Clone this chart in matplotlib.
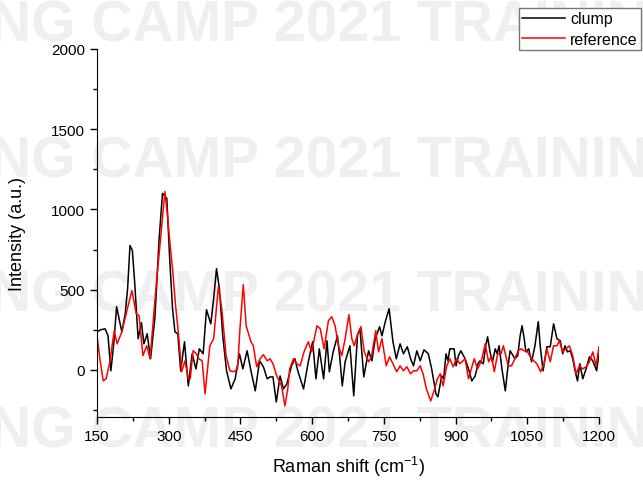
import matplotlib
matplotlib.use('Agg')
import matplotlib.pyplot as plt

plt.rcParams['font.family'] = ['Liberation Sans', 'DejaVu Sans']

# clump spectrum
clump_x = [150, 158, 167, 173, 179, 185, 191, 197, 202, 209, 214, 219, 224, 229, 236, 243, 248, 255,
           262, 271, 280, 287, 296, 302, 308, 313, 319, 325, 333, 341, 349, 357, 364, 372, 379, 388,
           394, 400, 406, 413, 421, 430, 439, 448, 455, 464, 472, 481, 490, 498, 506, 512, 518, 525,
           533, 540, 547, 557, 564, 570, 582, 592, 601, 608, 615, 624, 631, 636, 644, 653, 658, 663,
           669, 679, 687, 695, 700, 708, 718, 725, 732, 741, 746, 753, 761, 769, 776, 784, 791, 799,
           806, 812, 819, 826, 834, 843, 850, 859, 863, 871, 875, 880, 884, 888, 897, 901, 906, 911,
           920, 927, 934, 941, 947, 951, 958, 963, 967, 972, 977, 983, 987, 991, 997, 1004, 1009,
           1014, 1018, 1024, 1030, 1035, 1039, 1043, 1047, 1053, 1059, 1066, 1073, 1077, 1083, 1091,
           1098, 1105, 1112, 1119, 1124, 1129, 1134, 1140, 1145, 1150, 1155, 1160, 1166, 1173, 1180,
           1187, 1195, 1200]
clump_y = [237, 250, 256, 212, -6, 162, 394, 306, 237, 350, 506, 775, 744, 537, 194, 294, 162, 225,
           69, 319, 819, 1100, 1069, 694, 381, 237, 225, -6, 175, -100, 100, 6, 131, 100, 375, 287,
           444, 631, 506, 212, -6, -119, -56, 100, 6, 119, -6, -131, 56, 19, -56, -44, -44, -200,
           -38, -119, -88, 25, 69, -6, -119, 50, 175, -56, 131, -56, 181, -12, 112, 212, 69, -100,
           50, 150, -162, 219, 256, -44, 119, 56, 194, 269, 212, 300, 381, 175, 69, 162, 100, 144,
           69, 25, 119, 56, 125, 100, 6, -150, -169, -38, -56, 100, 56, 131, 131, 25, 88, 119,
           69, 6, -69, -38, 38, 56, 38, 150, 206, 112, 50, 131, 100, 150, 6, -131, 6,
           119, 100, 69, 88, 212, 275, 206, 112, 131, 50, 150, 300, 150, -6, 144,
           144, 287, 194, 181, 100, 150, 112, 119, 69, -6, -69, 38, -56, 6, 81,
           56, -6, 100]

# reference spectrum
ref_x = [150, 156, 163, 169, 177, 186, 192, 202, 212, 223, 232, 238, 246, 254, 261, 275, 284, 292,
         297, 303, 308, 314, 320, 327, 334, 341, 345, 351, 358, 363, 370, 376, 386, 394, 404, 411,
         420, 428, 436, 444, 449, 456, 462, 467, 472, 477, 484, 491, 498, 506, 512, 518, 526, 536,
         543, 549, 553, 561, 568, 575, 583, 592, 599, 610, 617, 625, 634, 641, 648, 655, 662, 669,
         677, 683, 688, 694, 702, 709, 718, 724, 733, 739, 746, 755, 762, 769, 777, 784, 791, 798,
         806, 812, 819, 826, 832, 839, 848, 855, 862, 868, 874, 881, 888, 895, 902, 909, 920, 927,
         933, 939, 946, 954, 962, 969, 975, 981, 988, 995, 1000, 1005, 1010, 1017, 1024, 1031,
         1037, 1043, 1049, 1059, 1070, 1078, 1085, 1091, 1098, 1105, 1112, 1117, 1124, 1131, 1138,
         1145, 1152, 1159, 1166, 1173, 1180, 1187, 1194, 1200]
ref_y = [212, 69, -69, -56, 50, 244, 162, 237, 362, 494, 350, 337, 88, 150, 69, 569, 850, 1112,
         975, 775, 631, 412, 237, -12, 56, -56, -56, 119, 100, 69, 56, -150, 150, 194, 519, 381,
         88, -6, -12, 6, 256, 531, 275, 225, 175, 150, 19, 69, 94, 56, 69, 38, -38, -100,
         -225, -119, 6, 69, 38, 25, 112, 175, 112, 275, 256, 131, 306, 331, 275, 150, 88, 194,
         344, 194, 150, 212, 269, 112, 50, 81, 244, 112, 194, 25, 81, 38, -12, 25, -6, 19,
         -25, -6, -6, 25, -25, -119, -194, -131, -56, -25, -100, 19, 69, 19, 69, 38, 69, -56,
         6, 69, 6, 56, 162, 50, 88, -12, 100, 100, 150, 88, 25, 25, 69, 119,
         131, 119, 119, 69, 38, -12, 38, 131, 50, 150, 150, 181, 112, 131, 150,
         88, -25, 25, 6, 19, 50, 112, 25, 144]

watermark = 'NG CAMP 2021 TRAINING'
watermark_rows = [27, 162, 297, 432]

fig = plt.figure(figsize=(6.43, 4.81), dpi=100)
ax = fig.add_axes([97 / 643, 1 - 418 / 481, 502 / 643, 368 / 481])
ax.patch.set_alpha(0)

for row in watermark_rows:
    fig.text(-10 / 643, 1 - row / 481, watermark, fontsize=41, fontweight='bold',
             color='#efefef', ha='left', va='center', zorder=-5)

l1, = ax.plot(clump_x, clump_y, color='black', lw=1.1, label='clump', solid_joinstyle='round')
l2, = ax.plot(ref_x, ref_y, color='red', lw=1.1, label='reference', solid_joinstyle='round')

ax.set_xlim(150, 1200)
ax.set_ylim(-294, 2000)
ax.set_xticks(range(150, 1201, 150))
ax.set_xticks(range(225, 1200, 150), minor=True)
ax.set_yticks([0, 500, 1000, 1500, 2000])
ax.set_yticks([-250, 250, 750, 1250, 1750], minor=True)
ax.spines['top'].set_visible(False)
ax.spines['right'].set_visible(False)
ax.tick_params(which='major', direction='out', length=5, width=1, labelsize=11)
ax.tick_params(which='minor', direction='out', length=3, width=1)

ax.set_xlabel(r'Raman shift (cm$^{\mathregular{-1}}$)', fontsize=13, labelpad=8)
ax.set_ylabel('Intensity (a.u.)', fontsize=13)
ax.yaxis.set_label_coords(-0.141, 0.5)

fig.legend(handles=[l1, l2], loc='upper right', bbox_to_anchor=(641 / 643, 1 - 9 / 481),
           fontsize=11.5, frameon=True, fancybox=False, edgecolor='#777777',
           borderpad=0.2, handlelength=2.7, handletextpad=0.3, labelspacing=0.35,
           borderaxespad=0, framealpha=1)

fig.savefig('out.png', dpi=100)
